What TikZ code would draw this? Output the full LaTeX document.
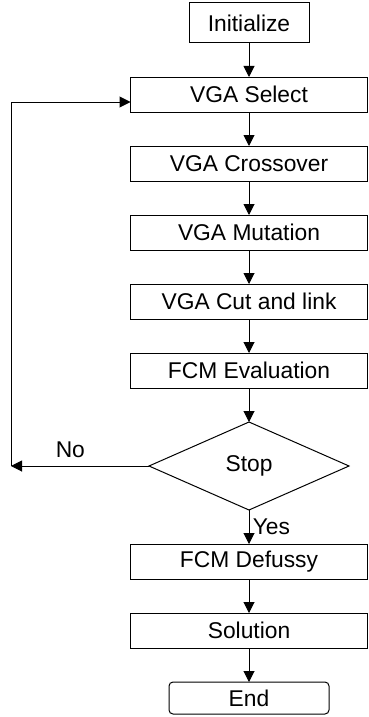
\documentclass[tikz,border=0pt]{standalone}
\usepackage{fontspec}
\setmainfont{Liberation Sans}
\usetikzlibrary{positioning,shapes.geometric,arrows.meta}

\begin{document}
\begin{tikzpicture}[font=\fontsize{22.8}{27}\selectfont, node distance=34pt,
    line width=1pt, >={Triangle[length=11pt,width=11pt]}]
  \tikzstyle{boite}=[draw, rectangle, minimum width=237pt, minimum height=35pt, inner sep=0, outer sep=0];
  \tikzstyle{debut}=[draw, rectangle, minimum width=120pt, minimum height=40pt, inner sep=0, outer sep=0];
  \tikzstyle{test}=[draw, diamond, aspect=2.27, minimum width=200pt, minimum height=88pt, inner sep=0, outer sep=0];
  \tikzstyle{fin}=[draw, rectangle, rounded corners=4pt, minimum width=160pt, minimum height=32pt, inner sep=0, outer sep=0];

  \useasboundingbox (0,0) rectangle (368pt,-717pt);

  \node[debut] (init) at (249pt,-23pt) {Initialize};
  \node[boite, below=of init] (select) {VGA Select};
  \node[boite, below=of select] (cross) {VGA Crossover};
  \node[boite, below=of cross] (mut) {VGA Mutation};
  \node[boite, below=of mut] (cut) {VGA Cut and link};
  \node[boite, below=of cut] (eval) {FCM Evaluation};
  \node[test, below=of eval] (stop) {Stop};
  \node[boite, below=of stop] (defuz) {FCM Defussy};
  \node[boite, below=of defuz] (sol) {Solution};
  \node[fin, below=of sol] (end) {End};

  \foreach \A/\B in {init/select, select/cross, cross/mut, mut/cut, cut/eval, eval/stop, defuz/sol, sol/end} {
    \draw[->] (\A) -- (\B);
  }
  \draw[->] (stop) -- node[right]{Yes} (defuz);

  % boucle de retour
  \coordinate (gauche) at (11pt,0 |- stop.west);
  \coordinate (entree) at ([yshift=-7.5pt]select.west);
  \draw[->] (stop.west) -- node[above=4pt, pos=0.57]{No} (gauche);
  \draw[->] (gauche) |- (entree);
\end{tikzpicture}
\end{document}
